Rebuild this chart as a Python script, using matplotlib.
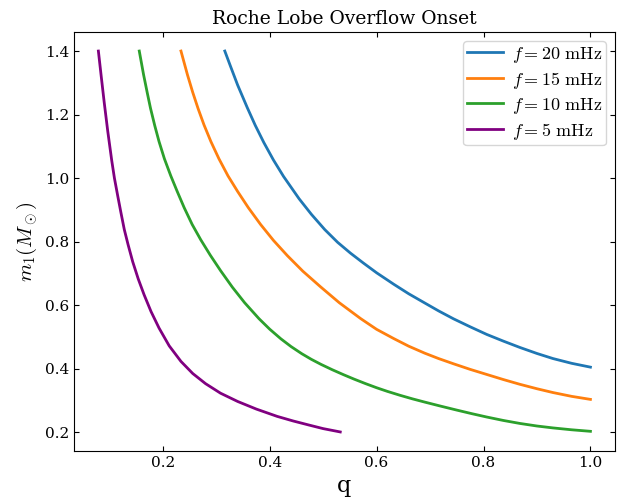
import matplotlib
matplotlib.use("Agg")
import matplotlib.pyplot as plt

plt.rcParams['font.family'] = ['DejaVu Serif']
plt.rcParams['mathtext.fontset'] = 'cm'

# values (q, m1) for each frequency
q_20 = [0.316, 0.326, 0.340, 0.358, 0.373, 0.389, 0.407, 0.426, 0.455, 0.478,
        0.503, 0.527, 0.551, 0.575, 0.600, 0.632, 0.660, 0.690, 0.716, 0.744,
        0.775, 0.806, 0.837, 0.868, 0.900, 0.930, 0.965, 1.0]
m_20 = [1.40, 1.355, 1.293, 1.222, 1.166, 1.112, 1.057, 1.005, 0.935, 0.886,
        0.838, 0.798, 0.764, 0.733, 0.702, 0.666, 0.636, 0.607, 0.582, 0.557,
        0.532, 0.508, 0.487, 0.467, 0.448, 0.432, 0.417, 0.405]

q_15 = [0.234, 0.246, 0.256, 0.266, 0.277, 0.290, 0.305, 0.322, 0.340, 0.360,
        0.383, 0.407, 0.433, 0.462, 0.495, 0.530, 0.570, 0.600, 0.632, 0.660,
        0.690, 0.716, 0.744, 0.775, 0.806, 0.837, 0.868, 0.900, 0.930, 0.965, 1.0]
m_15 = [1.40, 1.326, 1.270, 1.219, 1.168, 1.115, 1.061, 1.007, 0.958, 0.907,
        0.854, 0.804, 0.756, 0.707, 0.658, 0.608, 0.558, 0.524, 0.495, 0.471,
        0.449, 0.432, 0.4155, 0.398, 0.382, 0.366, 0.351, 0.337, 0.325, 0.313, 0.3035]

q_10 = [0.156, 0.164, 0.171, 0.177, 0.185, 0.193, 0.203, 0.215, 0.227, 0.240,
        0.255, 0.271, 0.289, 0.308, 0.330, 0.353, 0.380, 0.400, 0.421, 0.440,
        0.460, 0.478, 0.496, 0.517, 0.538, 0.558, 0.579, 0.600, 0.620, 0.644,
        0.667, 0.690, 0.720, 0.750, 0.778, 0.806, 0.837, 0.868, 0.900, 0.930,
        0.965, 1.0]
m_10 = [1.40, 1.326, 1.268, 1.220, 1.165, 1.115, 1.061, 1.007, 0.958, 0.907,
        0.854, 0.806, 0.757, 0.709, 0.657, 0.608, 0.5575, 0.5245, 0.494, 0.4697,
        0.4473, 0.4295, 0.4137, 0.3969, 0.3813, 0.3672, 0.3533, 0.3402, 0.3288, 0.3163,
        0.3052, 0.295, 0.2822, 0.2698, 0.2586, 0.248, 0.2372, 0.2278, 0.2197, 0.2137,
        0.2078, 0.203]

q_5 = [0.0795, 0.0845, 0.0905, 0.097, 0.1045, 0.1095, 0.1157, 0.1215, 0.128, 0.135,
       0.1437, 0.154, 0.165, 0.178, 0.193, 0.212, 0.234, 0.256, 0.280, 0.308,
       0.340, 0.375, 0.414, 0.444, 0.474, 0.500, 0.532]
m_5 = [1.40, 1.325, 1.237, 1.148, 1.055, 1.000, 0.944, 0.893, 0.838, 0.791,
       0.737, 0.683, 0.633, 0.580, 0.528, 0.472, 0.423, 0.385, 0.353, 0.323,
       0.297, 0.273, 0.250, 0.2355, 0.2225, 0.2115, 0.201]

labels = [r'$f = 20\ \mathrm{mHz}$', r'$f = 15\ \mathrm{mHz}$',
          r'$f = 10\ \mathrm{mHz}$', r'$f = 5\ \mathrm{mHz}$']
colors = ['tab:blue', 'tab:orange', 'tab:green', 'purple']

fig = plt.figure(figsize=(6.2, 5), dpi=100)
ax = fig.add_axes([0.119, 0.098, 0.873, 0.838])

for q, m, lab, c in zip([q_20, q_15, q_10, q_5], [m_20, m_15, m_10, m_5], labels, colors):
    ax.plot(q, m, color=c, lw=2, label=lab)

ax.set_title('Roche Lobe Overflow Onset', fontsize=13.5)
ax.set_xlabel('q', fontsize=16)
ax.set_ylabel(r'$m_1(M_\odot)$', fontsize=15)
ax.set_xticks([0.2, 0.4, 0.6, 0.8, 1.0])
ax.set_yticks([0.2, 0.4, 0.6, 0.8, 1.0, 1.2, 1.4])
ax.tick_params(direction='in', top=True, right=True, labelsize=11)
ax.legend(loc='upper right', fontsize=13, handlelength=2.0, handletextpad=0.5,
          labelspacing=0.28, borderpad=0.2)

fig.savefig('out.png', dpi=100)
